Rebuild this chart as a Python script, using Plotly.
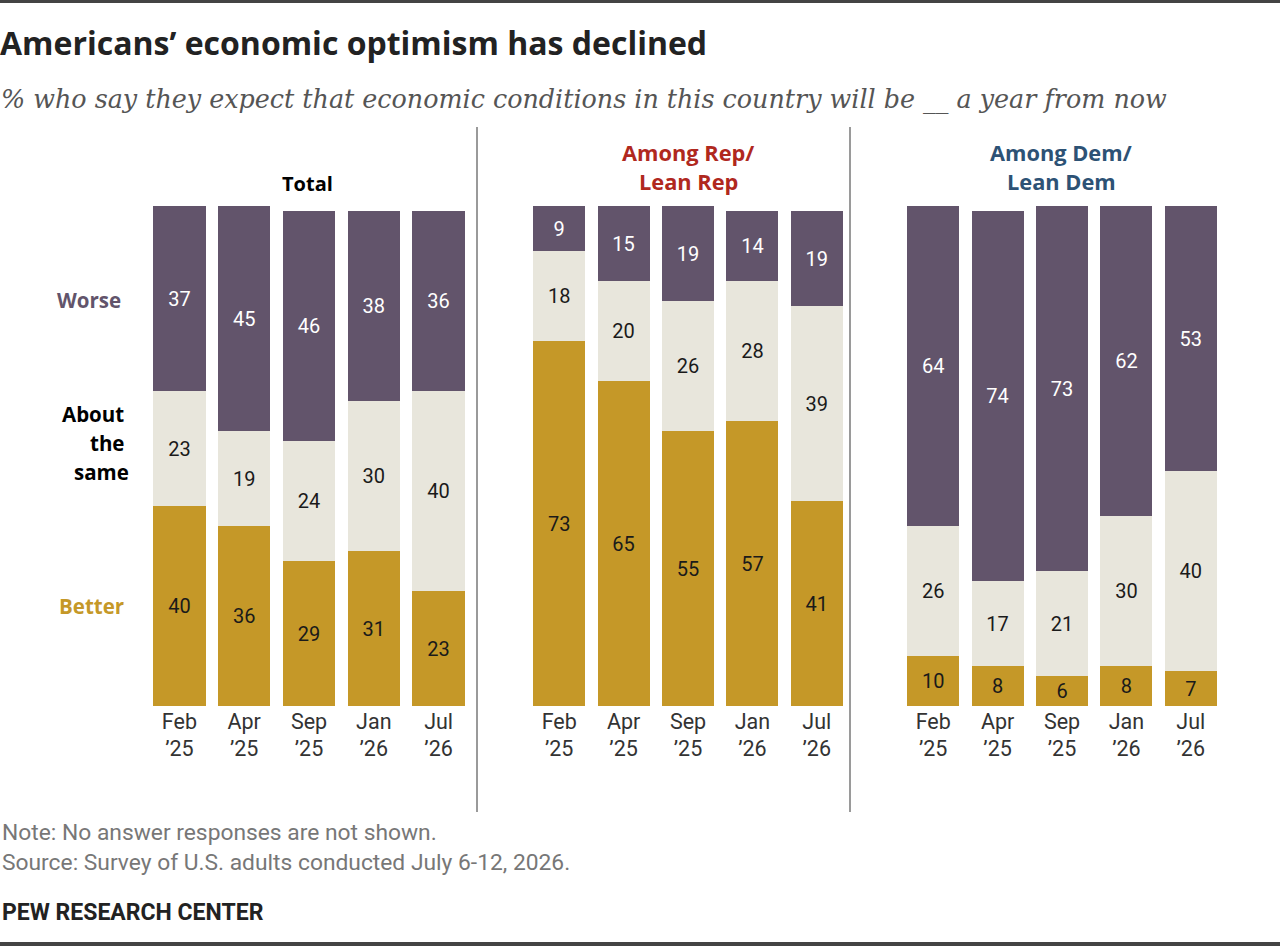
import plotly.graph_objects as go

periods = ["Feb<br>’25", "Apr<br>’25", "Sep<br>’25", "Jan<br>’26", "Jul<br>’26"]

total_better = [40, 36, 29, 31, 23]
total_same = [23, 19, 24, 30, 40]
total_worse = [37, 45, 46, 38, 36]

rep_better = [73, 65, 55, 57, 41]
rep_same = [18, 20, 26, 28, 39]
rep_worse = [9, 15, 19, 14, 19]

dem_better = [10, 8, 6, 8, 7]
dem_same = [26, 17, 21, 30, 40]
dem_worse = [64, 74, 73, 62, 53]

panels = [
    ("x", "y", total_better, total_same, total_worse),
    ("x2", "y2", rep_better, rep_same, rep_worse),
    ("x3", "y3", dem_better, dem_same, dem_worse),
]

C_BETTER = "#C59828"
C_SAME = "#E8E6DC"
C_WORSE = "#62546B"

W, H = 1280, 946

def px(x):
    return x / W

def py(y):
    return 1 - y / H

fig = go.Figure()
for xa, ya, b, s, w in panels:
    for vals, col, tcol in [(b, C_BETTER, "#1a1a1a"), (s, C_SAME, "#1a1a1a"), (w, C_WORSE, "#ffffff")]:
        fig.add_trace(go.Bar(
            x=list(range(len(periods))), y=vals, xaxis=xa, yaxis=ya,
            marker=dict(color=col, line=dict(width=0)),
            text=[str(v) for v in vals], textposition="inside",
            insidetextanchor="middle", textangle=0,
            textfont=dict(family="Roboto", size=20, color=tcol),
            hoverinfo="skip", showlegend=False, cliponaxis=False,
        ))

ydom = [py(706), py(206)]
xdoms = [[px(147), px(471)], [px(527), px(849)], [px(901), px(1223)]]

layout = dict(
    width=W, height=H, barmode="stack", bargap=0.19,
    margin=dict(l=0, r=0, t=0, b=0),
    plot_bgcolor="white", paper_bgcolor="white",
    uniformtext=dict(minsize=10, mode="show"),
)
for i, dom in enumerate(xdoms):
    sfx = "" if i == 0 else str(i + 1)
    layout["xaxis" + sfx] = dict(
        domain=dom, range=[-0.5, 4.5], anchor="y" + sfx,
        tickmode="array", tickvals=list(range(5)), ticktext=periods,
        showgrid=False, zeroline=False, showline=False, ticks="",
        tickfont=dict(family="Roboto", size=21.5, color="#333333"),
        fixedrange=True,
    )
    layout["yaxis" + sfx] = dict(
        domain=ydom, range=[0, 100], anchor="x" + sfx,
        showgrid=False, zeroline=False, showline=False, showticklabels=False,
        fixedrange=True,
    )
fig.update_layout(**layout)

ann = []
def A(text, x, y, size, color, bold=False, family="Roboto", xanchor="left", align="left", italic=False):
    t = text
    if bold:
        t = "<b>" + t + "</b>"
    if italic:
        t = "<i>" + t + "</i>"
    ann.append(dict(text=t, x=px(x), y=py(y), xref="paper", yref="paper",
                    xanchor=xanchor, yanchor="middle", showarrow=False, align=align,
                    font=dict(family=family, size=size, color=color)))

A("Americans’ economic optimism has declined", -2, 42, 32, "#222222", bold=True, family="Open Sans")
A("% who say they expect that economic conditions in this country will be __ a year from now", -1, 100, 25.4, "#555555",
  family="DejaVu Serif", italic=True)

A("Total", 307, 184, 20, "#000000", bold=True, family="Open Sans", xanchor="center", align="center")
A("Among Rep/", 688, 152, 21.8, "#B0281E", bold=True, family="Open Sans", xanchor="center", align="center")
A("Lean Rep", 688, 181, 21.8, "#B0281E", bold=True, family="Open Sans", xanchor="center", align="center")
A("Among Dem/", 1061, 152, 21.8, "#2D5275", bold=True, family="Open Sans", xanchor="center", align="center")
A("Lean Dem", 1061, 181, 21.8, "#2D5275", bold=True, family="Open Sans", xanchor="center", align="center")

A("Worse", 123, 300, 20.5, C_WORSE, bold=True, family="Open Sans", xanchor="right", align="right")
A("About", 126, 414, 20.5, "#000000", bold=True, family="Open Sans", xanchor="right", align="right")
A("the", 126, 443, 20.5, "#000000", bold=True, family="Open Sans", xanchor="right", align="right")
A("same", 131, 472, 20.5, "#000000", bold=True, family="Open Sans", xanchor="right", align="right")
A("Better", 126, 606, 20.5, C_BETTER, bold=True, family="Open Sans", xanchor="right", align="right")

A("Note: No answer responses are not shown.", 0, 832, 22.8, "#777777")
A("Source: Survey of U.S. adults conducted July 6-12, 2026.", 0, 862, 22.8, "#777777")
A("PEW RESEARCH CENTER", 0, 912, 23, "#222222", bold=True)
fig.update_layout(annotations=ann)

shapes = []
for xv in (477, 850):
    shapes.append(dict(type="line", xref="paper", yref="paper", x0=px(xv), x1=px(xv),
                       y0=py(127), y1=py(812), line=dict(color="#9a9a9a", width=2)))
shapes.append(dict(type="rect", xref="paper", yref="paper", x0=0, x1=1, y0=py(0), y1=py(3),
                   fillcolor="#444444", line=dict(width=0)))
shapes.append(dict(type="rect", xref="paper", yref="paper", x0=0, x1=1, y0=py(942), y1=py(946),
                   fillcolor="#444444", line=dict(width=0)))
fig.update_layout(shapes=shapes)

fig.write_html("out.html", config=dict(displayModeBar=False))
